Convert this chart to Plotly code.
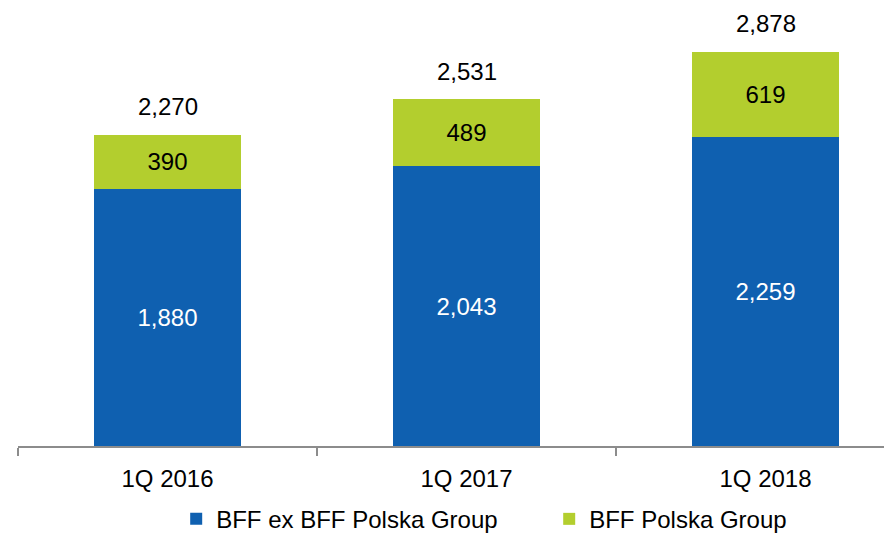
import plotly.graph_objects as go

categories = ["1Q 2016", "1Q 2017", "1Q 2018"]
bff_ex = [1880, 2043, 2259]
bff_polska = [390, 489, 619]
totals = [2270, 2531, 2878]

BLUE = "#0F60B0"
GREEN = "#B3CE2E"
FONT = "Liberation Sans"
FS = 24

x = list(range(len(categories)))

fig = go.Figure()
fig.add_trace(go.Bar(
    x=x, y=bff_ex, name="BFF ex BFF Polska Group",
    marker=dict(color=BLUE, line=dict(width=0)), width=0.49,
    texttemplate="%{y:,}", textposition="inside", insidetextanchor="middle",
    textfont=dict(color="white", size=FS, family=FONT),
))
fig.add_trace(go.Bar(
    x=x, y=bff_polska, name="BFF Polska Group",
    marker=dict(color=GREEN, line=dict(width=0)), width=0.49,
    texttemplate="%{y:,}", textposition="inside", insidetextanchor="middle",
    textfont=dict(color="black", size=FS, family=FONT),
))

for xi, t in zip(x, totals):
    fig.add_annotation(x=xi, y=t, text=f"{t:,}", showarrow=False,
                       yanchor="bottom", yshift=13,
                       font=dict(size=FS, color="black", family=FONT))

fig.update_layout(
    barmode="stack",
    width=884, height=528,
    margin=dict(l=10, r=0, t=2, b=90, autoexpand=False),
    paper_bgcolor="white", plot_bgcolor="white",
    font=dict(family=FONT, size=FS, color="black"),
    legend=dict(orientation="h", x=0.181, xanchor="left", y=-0.168, yanchor="middle",
                traceorder="normal",
                font=dict(size=FS, family=FONT), itemwidth=30,
                entrywidth=328, entrywidthmode="pixels",
                bgcolor="rgba(0,0,0,0)"),
    showlegend=True,
)
fig.update_xaxes(
    range=[-0.5, 2.423], tickvals=x, ticktext=categories, ticks="",
    showline=True, linecolor="#8C8C8C", linewidth=1.5, showgrid=False, zeroline=False,
    tickfont=dict(size=FS, family=FONT), ticklabelstandoff=10, automargin=False,
    minor=dict(tick0=-0.5, dtick=1, ticks="outside", ticklen=8, tickcolor="#8C8C8C", tickwidth=1.5, showgrid=False),
)
fig.update_yaxes(range=[0, 3185], visible=False, showgrid=False, automargin=False)

fig.write_html("out.html")
